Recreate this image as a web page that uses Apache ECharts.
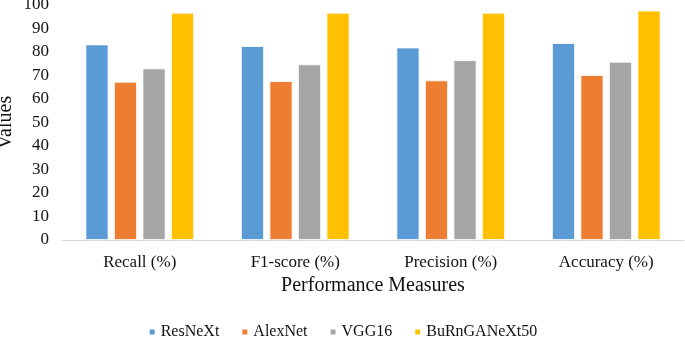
<!doctype html>
<html>
<head>
<meta charset="utf-8">
<title>Performance Measures</title>
<style>
  html, body { margin: 0; padding: 0; background: #fff; }
  #main { width: 685px; height: 337px; }
</style>
</head>
<body>
<div id="main"></div>
<script src="https://cdn.jsdelivr.net/npm/echarts@6/dist/echarts.min.js"></script>
<script>

var categories = ['Recall (%)', 'F1-score (%)', 'Precision (%)', 'Accuracy (%)'];
var models = ['ResNeXt', 'AlexNet', 'VGG16', 'BuRnGANeXt50'];
var colors = ['#5B9BD5', '#ED7D31', '#A5A5A5', '#FFC000'];

var resnext = [83.2, 82.5, 81.9, 83.8];
var alexnet = [67.3, 67.6, 67.9, 70.2];
var vgg16 = [73.0, 74.7, 76.5, 75.8];
var burngan = [96.7, 96.7, 96.7, 97.6];

var seriesValues = [resnext, alexnet, vgg16, burngan];

var font = '"Liberation Serif", "Times New Roman", serif';

var chart = echarts.init(document.getElementById('main'));

chart.setOption({
    animation: false,
    textStyle: { fontFamily: font },
    grid: { left: 62, right: 1, top: 5, bottom: 97, outerBoundsMode: 'none', containLabel: false },
    legend: {
        data: models,
        left: 'center',
        top: 319,
        itemWidth: 7,
        itemHeight: 7,
        itemGap: 21,
        icon: 'rect',
        textStyle: { fontFamily: font, fontSize: 16, color: '#111' }
    },
    xAxis: {
        type: 'category',
        data: categories,
        name: 'Performance Measures',
        nameLocation: 'middle',
        nameGap: 36,
        nameMoveOverlap: false,
        nameTextStyle: { fontFamily: font, fontSize: 20, color: '#111' },
        axisLine: { lineStyle: { color: '#D9D9D9', width: 1 } },
        axisTick: { show: false },
        axisLabel: { fontFamily: font, fontSize: 17, color: '#111', margin: 14 }
    },
    yAxis: {
        type: 'value',
        min: 0,
        max: 100,
        interval: 10,
        name: 'Values',
        nameLocation: 'middle',
        nameGap: 46,
        nameMoveOverlap: false,
        nameTextStyle: { fontFamily: font, fontSize: 20, color: '#111' },
        axisLine: { show: false },
        axisTick: { show: false },
        splitLine: { show: false },
        axisLabel: { fontFamily: font, fontSize: 17, color: '#111', margin: 13 }
    },
    series: models.map(function (name, i) {
        return {
            name: name,
            type: 'bar',
            data: seriesValues[i],
            barWidth: 23,
            barGap: '24%',
            itemStyle: { color: colors[i], borderColor: '#fff', borderWidth: 0.8 }
        };
    })
});
</script>
</body>
</html>
